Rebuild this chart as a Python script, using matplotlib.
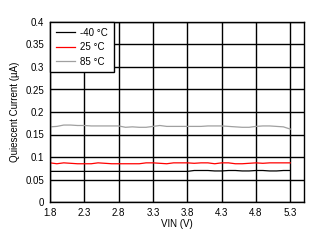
import numpy as np
from matplotlib import pyplot as plt

# data
vin = np.round(np.arange(1.8, 5.31, 0.1), 1)
iq_m40 = [0.068, 0.068, 0.068, 0.068, 0.068, 0.068, 0.068, 0.068, 0.068, 0.068,
          0.068, 0.068, 0.068, 0.068, 0.068, 0.068, 0.068, 0.068, 0.068, 0.068,
          0.068, 0.070, 0.070, 0.070, 0.069, 0.069, 0.070, 0.070, 0.069, 0.069,
          0.070, 0.070, 0.069, 0.069, 0.070, 0.070]
iq_25 = [0.087, 0.085, 0.087, 0.086, 0.085, 0.085, 0.085, 0.087, 0.086, 0.085,
         0.085, 0.085, 0.085, 0.085, 0.087, 0.087, 0.086, 0.085, 0.087, 0.087,
         0.087, 0.086, 0.087, 0.087, 0.085, 0.087, 0.087, 0.085, 0.085, 0.086,
         0.087, 0.086, 0.087, 0.087, 0.087, 0.087]
iq_85 = [0.167, 0.168, 0.171, 0.171, 0.170, 0.170, 0.169, 0.169, 0.169, 0.169,
         0.169, 0.166, 0.167, 0.166, 0.166, 0.168, 0.170, 0.168, 0.168, 0.168,
         0.168, 0.168, 0.168, 0.169, 0.169, 0.169, 0.168, 0.167, 0.166, 0.166,
         0.168, 0.169, 0.169, 0.168, 0.167, 0.162]
labels = ['-40 \u00b0C', '25 \u00b0C', '85 \u00b0C']
colors = ['black', 'red', '#a0a0a0']

plt.rcParams['font.family'] = ['Liberation Sans', 'DejaVu Sans']
fig = plt.figure(figsize=(3.25, 2.43), dpi=100)
ax = fig.add_axes([50/325, 41/243, 254/325, 180/243])

for y, lab, c in zip([iq_m40, iq_25, iq_85], labels, colors):
    ax.plot(vin, y, color=c, lw=0.9, label=lab)

ax.set_xlim(1.8, 5.5)
ax.set_ylim(0, 0.4)
ax.set_xticks(np.arange(1.8, 5.31, 0.5))
ax.set_xticklabels(['1.8', '2.3', '2.8', '3.3', '3.8', '4.3', '4.8', '5.3'])
ax.set_yticks(np.arange(0, 0.401, 0.05))
ax.set_yticklabels(['0', '0.05', '0.1', '0.15', '0.2', '0.25', '0.3', '0.35', '0.4'])
ax.grid(True, color='black', lw=1.0)
ax.set_axisbelow(True)
for s in ax.spines.values():
    s.set_linewidth(1.0)
ax.tick_params(length=0, labelsize=7, pad=4)
ax.set_xlabel('VIN (V)', fontsize=7, labelpad=1)
ax.set_ylabel('Quiescent Current (\u00b5A)', fontsize=7, labelpad=4)

leg = ax.legend(loc='upper left', fontsize=7, frameon=True, fancybox=False,
                borderaxespad=0, handlelength=2.0, handletextpad=0.5,
                labelspacing=0.45, borderpad=0.6)
leg.get_frame().set_edgecolor('black')
leg.get_frame().set_linewidth(1.0)
leg.get_frame().set_alpha(1)

fig.savefig('out.png', dpi=100)
